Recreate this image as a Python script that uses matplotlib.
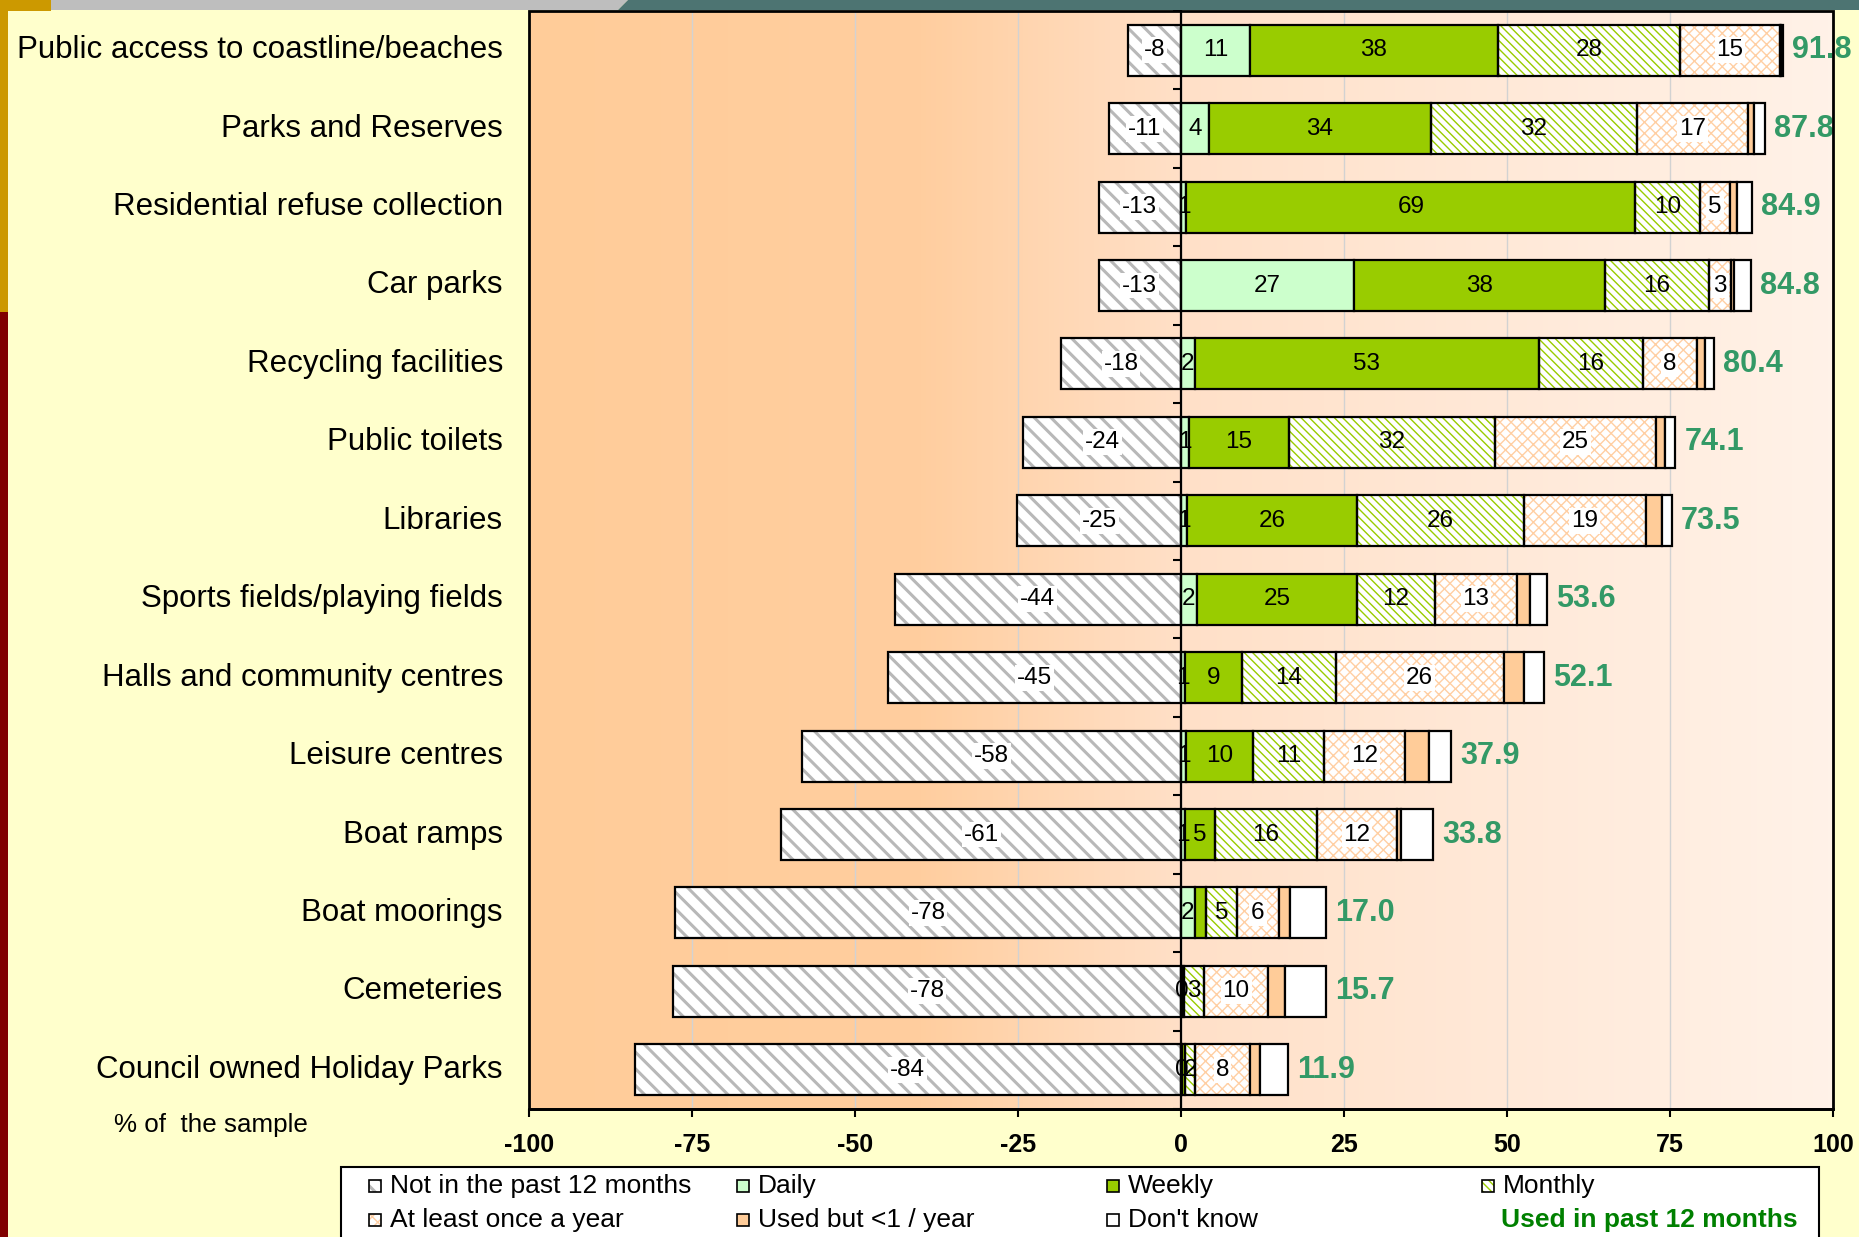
import numpy as np
import matplotlib
matplotlib.use("Agg")
import matplotlib.pyplot as plt
from matplotlib.patches import Rectangle, Polygon
from matplotlib.colors import LinearSegmentedColormap
import matplotlib.transforms as mtransforms

plt.rcParams['font.family'] = ['Liberation Sans', 'DejaVu Sans']
plt.rcParams['axes.unicode_minus'] = False

# ---------------- data ----------------
categories = [
    "Public access to coastline/beaches",
    "Parks and Reserves",
    "Residential refuse collection",
    "Car parks",
    "Recycling facilities",
    "Public toilets",
    "Libraries",
    "Sports fields/playing fields",
    "Halls and community centres",
    "Leisure centres",
    "Boat ramps",
    "Boat moorings",
    "Cemeteries",
    "Council owned Holiday Parks",
]
not_12m   = [8.2, 11.1, 12.6, 12.6, 18.4, 24.2, 25.1, 43.9, 44.9, 58.2, 61.3, 77.6, 77.9, 83.8]
daily     = [10.6, 4.3, 0.8, 26.6, 2.1, 1.2, 0.9, 2.4, 0.6, 0.8, 0.6, 2.1, 0.2, 0.2]
weekly    = [38.0, 34.0, 68.9, 38.4, 52.8, 15.3, 26.1, 24.6, 8.7, 10.2, 4.6, 1.8, 0.3, 0.4]
monthly   = [28.0, 31.6, 9.9, 16.0, 15.9, 31.7, 25.6, 11.9, 14.4, 11.0, 15.6, 4.7, 3.0, 1.6]
yearly    = [15.2, 17.1, 4.6, 3.3, 8.3, 24.6, 18.7, 12.7, 25.8, 12.3, 12.4, 6.4, 9.9, 8.4]
used_lt1  = [0.3, 0.9, 1.0, 0.5, 1.2, 1.4, 2.4, 1.9, 3.1, 3.8, 0.5, 1.7, 2.5, 1.5]
dont_know = [0.2, 1.6, 2.4, 2.6, 1.4, 1.6, 1.6, 2.6, 3.0, 3.3, 5.0, 5.6, 6.4, 4.3]
totals    = [91.8, 87.8, 84.9, 84.8, 80.4, 74.1, 73.5, 53.6, 52.1, 37.9, 33.8, 17.0, 15.7, 11.9]

series_names = ["Not in the past 12 months", "Daily", "Weekly", "Monthly",
                "At least once a year", "Used but <1 / year", "Don't know"]
total_label = "Used in past 12 months"
axis_note = "% of  the sample"
xticks = [-100, -75, -50, -25, 0, 25, 50, 75, 100]
hidden_labels = {("Weekly", "Boat moorings"), ("Weekly", "Cemeteries"),
                 ("Weekly", "Council owned Holiday Parks")}

# ---------------- styles ----------------
styles = {
    "Not in the past 12 months": dict(face="white", hatch="\\\\", hcolor="#B8B8B8", hlw=2.2, box=True),
    "Daily": dict(face="#CCFFCC", box=False),
    "Weekly": dict(face="#99CC00", box=False),
    "Monthly": dict(face="white", hatch="\\\\\\\\", hcolor="#99CC00", hlw=1.0, box=False),
    "At least once a year": dict(face="white", hatch="xxx", hcolor="#FFCFA3", hlw=1.0, box=True),
    "Used but <1 / year": dict(face="#FFCC99", box=False),
    "Don't know": dict(face="white", box=False),
}
labelled = ["Not in the past 12 months", "Daily", "Weekly", "Monthly", "At least once a year"]

W, H, DPI = 1859, 1237, 100
fig = plt.figure(figsize=(W / DPI, H / DPI), dpi=DPI, facecolor="#FFFFCC")


def fx(px):
    return px / W


def fy(py):
    return 1 - py / H


def set_hlw(patch, lw):
    if hasattr(patch, "set_hatch_linewidth"):
        patch.set_hatch_linewidth(lw)


# figure decorations
deco = [
    (Polygon([(fx(51), fy(0)), (fx(628), fy(0)), (fx(618), fy(10)), (fx(51), fy(10))], closed=True), "#BEBEBE"),
    (Polygon([(fx(618), fy(10)), (fx(628), fy(0)), (fx(W), fy(0)), (fx(W), fy(10))], closed=True), "#4D7472"),
    (Rectangle((fx(0), fy(11)), fx(51), 11 / H), "#CC9900"),
    (Rectangle((fx(0), fy(312)), fx(8), 312 / H), "#CC9900"),
    (Rectangle((fx(0), fy(H)), fx(8), (H - 312) / H), "#800000"),
]
for p, c in deco:
    p.set_transform(fig.transFigure)
    p.set_facecolor(c)
    p.set_edgecolor("none")
    fig.add_artist(p)

ax_l, ax_r, ax_t, ax_b = 529, 1833, 11, 1109
ax = fig.add_axes([fx(ax_l), fy(ax_b), (ax_r - ax_l) / W, (ax_b - ax_t) / H])

n = len(categories)
y = np.arange(n)

# background gradient
cmap = LinearSegmentedColormap.from_list(
    "bg", [(0.0, "#FFCC99"), (0.3, "#FFCE9F"), (0.5, "#FFE0C8"), (1.0, "#FFF2E8")])
grad = np.linspace(0, 1, 256).reshape(1, -1)
ax.imshow(grad, extent=[-100, 100, n - 0.5, -0.5], aspect="auto", cmap=cmap, zorder=0)

values = {
    "Not in the past 12 months": -np.array(not_12m),
    "Daily": np.array(daily),
    "Weekly": np.array(weekly),
    "Monthly": np.array(monthly),
    "At least once a year": np.array(yearly),
    "Used but <1 / year": np.array(used_lt1),
    "Don't know": np.array(dont_know),
}

bar_h = 0.65
left = np.zeros(n)
for name in series_names:
    st = styles[name]
    vals = values[name]
    base = np.zeros(n) if name == "Not in the past 12 months" else left
    if "hatch" in st:
        fills = ax.barh(y, vals, left=base, height=bar_h, color=st["face"],
                        edgecolor=st["hcolor"], hatch=st["hatch"], linewidth=0, zorder=2)
        for p in fills:
            set_hlw(p, st["hlw"])
        cont = ax.barh(y, vals, left=base, height=bar_h, fill=False,
                       edgecolor="black", linewidth=1.6, zorder=3)
    else:
        cont = ax.barh(y, vals, left=base, height=bar_h, color=st["face"],
                       edgecolor="black", linewidth=1.6, zorder=3)
    if name in labelled:
        labs = []
        for i, v in enumerate(vals):
            if (name, categories[i]) in hidden_labels:
                labs.append("")
            else:
                labs.append(f"{int(round(v))}")
        kw = {}
        if st["box"]:
            kw["bbox"] = dict(boxstyle="square,pad=0.08", fc="white", ec="none")
        ax.bar_label(cont, labels=labs, label_type="center", fontsize=17.5,
                     color="black", zorder=4, **kw)
    if name != "Not in the past 12 months":
        left = left + vals

# totals
for i in range(n):
    ax.text(left[i] + 1.4, y[i], f"{totals[i]:.1f}", ha="left", va="center",
            fontsize=22, fontweight="bold", color="#339966", zorder=5, clip_on=False)

ax.set_xlim(-100, 100)
ax.set_ylim(n - 0.5, -0.5)

# grid
ax.set_xticks(xticks)
ax.set_xticklabels([str(t) for t in xticks], fontsize=18, fontweight="bold")
ax.set_axisbelow(True)
ax.xaxis.grid(True, color="#D2D2D2", linewidth=1.0)
for gl in ax.get_xgridlines():
    gl.set_zorder(1)
ax.tick_params(axis="x", direction="out", length=6, width=1.5, pad=11)

# zero line with category-boundary ticks
ax.spines["left"].set_position(("data", 0))
ax.spines["left"].set_linewidth(1.6)
ax.spines["left"].set_zorder(6)
ax.set_yticks(np.arange(-0.5, n, 1.0))
ax.set_yticklabels([])
ax.tick_params(axis="y", direction="out", length=6, width=1.5)
ax.spines["top"].set_visible(False)
ax.spines["right"].set_visible(False)
ax.spines["bottom"].set_linewidth(2)
ax.add_patch(Rectangle((0, 0), 1, 1, transform=ax.transAxes, fill=False,
                       edgecolor="black", linewidth=2, zorder=7, clip_on=False))

# category labels
trans = mtransforms.blended_transform_factory(ax.transAxes, ax.transData)
for i, c in enumerate(categories):
    ax.text(-0.02, y[i], c, transform=trans, ha="right", va="center", fontsize=22.5)

fig.text(fx(114), fy(1125), axis_note, ha="left", va="center", fontsize=18.7)

# legend (manual layout)
fig.add_artist(Rectangle((fx(341), fy(1245)), (1819 - 341) / W, (1245 - 1167) / H,
                         transform=fig.transFigure, facecolor="white",
                         edgecolor="black", linewidth=1.5))
col_x = [369, 737, 1107, 1482]
row_y = [1186, 1220]
positions = [(0, 0), (1, 0), (2, 0), (3, 0), (0, 1), (1, 1), (2, 1)]
for name, (c, r) in zip(series_names, positions):
    st = styles[name]
    mx, my = col_x[c], row_y[r]
    x0, y0, w, h = fx(mx), fy(my + 6), 12 / W, 12 / H
    if "hatch" in st:
        mk = Rectangle((x0, y0), w, h, transform=fig.transFigure,
                       facecolor=st["face"], edgecolor=st["hcolor"],
                       hatch=st["hatch"], linewidth=0)
        set_hlw(mk, st["hlw"])
        fig.add_artist(mk)
        fig.add_artist(Rectangle((x0, y0), w, h, transform=fig.transFigure,
                                 fill=False, edgecolor="black", linewidth=1.2))
    else:
        fig.add_artist(Rectangle((x0, y0), w, h, transform=fig.transFigure,
                                 facecolor=st["face"], edgecolor="black", linewidth=1.2))
    fig.text(fx(mx + 21), fy(my), name, ha="left", va="center", fontsize=19)
fig.text(fx(col_x[3] + 19), fy(row_y[1]), total_label, ha="left", va="center",
         fontsize=19, fontweight="bold", color="#008000")

fig.savefig("out.png", dpi=DPI, facecolor=fig.get_facecolor())
